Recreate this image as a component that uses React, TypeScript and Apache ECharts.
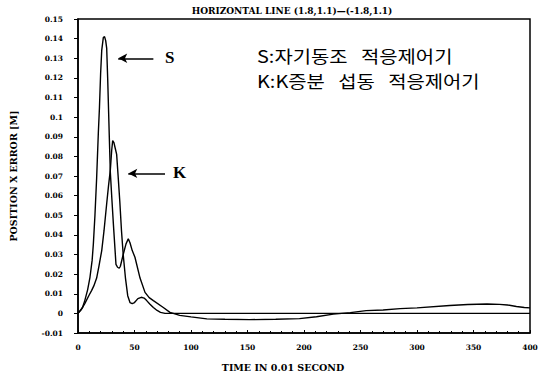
import React, { useEffect, useRef } from "react";
import * as echarts from "echarts";

const titleText = "HORIZONTAL LINE (1.8,1.1)—(-1.8,1.1)";
const xName = "TIME IN 0.01 SECOND";
const yName = "POSITION X ERROR [M]";
const legendLines = ["S:자기동조   적응제어기", "K:K증분   섭동   적응제어기"];

// S curve (self-tuning adaptive controller): [time, error]
const sCurve: [number, number][] = [
  [0, 0], [4, 0.003], [6, 0.0065], [8.5, 0.012], [10.6, 0.0184], [12.5, 0.027], [13.6, 0.0354],
  [15, 0.05], [16.5, 0.069], [18, 0.092], [19, 0.105], [20, 0.122], [21, 0.134], [22.4, 0.1405],
  [23.5, 0.141], [24.5, 0.139], [25.4, 0.135], [26.3, 0.119], [27.7, 0.09], [28.6, 0.072],
  [30, 0.058], [31.3, 0.0456], [33.6, 0.025], [35, 0.0235], [36.5, 0.023], [37.5, 0.024],
  [40, 0.03], [42.5, 0.0354], [44.5, 0.038], [46, 0.036], [48, 0.032], [50.4, 0.0286],
  [54.9, 0.018], [59.3, 0.0107], [63, 0.008], [66.7, 0.0065], [75.5, 0.003], [81.4, 0.0005],
  [90, -0.001], [100, -0.0018], [114, -0.0028], [130, -0.003], [152, -0.0032], [175, -0.003],
  [196, -0.0027], [211, -0.0017], [226, -0.0004], [241, 0.0004], [255, 0.0014], [270, 0.0017],
  [285, 0.0024], [300, 0.0028], [329, 0.004], [345, 0.0045], [362, 0.0048], [373, 0.0046],
  [380, 0.0043], [388, 0.0035], [395, 0.003], [400, 0.0028],
];

// K curve (K-increment perturbation adaptive controller)
const kCurve: [number, number][] = [
  [0, 0], [3, 0.002], [6, 0.005], [10, 0.0095], [12, 0.0116], [14, 0.014], [16.5, 0.018],
  [18.5, 0.024], [21, 0.032], [23, 0.042], [25.4, 0.056], [27, 0.065], [28.6, 0.073],
  [29.8, 0.083], [30.7, 0.088], [31.8, 0.087], [33, 0.084], [34.2, 0.081], [35.5, 0.07],
  [37, 0.057], [38.5, 0.042], [40, 0.03], [42, 0.018], [44, 0.009], [46, 0.0055], [48, 0.005],
  [50, 0.0055], [53, 0.0075], [56, 0.0082], [58.5, 0.0078], [60.8, 0.0065], [63.5, 0.0048],
  [66.7, 0.003], [70, 0.0015], [73, 0.0005], [77, 0], [100, 0], [150, 0], [200, 0],
  [250, 0], [300, 0], [350, 0], [400, 0],
];

// annotation arrows: [xFrom, xTo, y]
const sArrow: [number, number, number] = [66.7, 35.6, 0.13];
const kArrow: [number, number, number] = [77, 44.5, 0.0713];

const X_MIN = 0, X_MAX = 400, X_STEP = 50;
const Y_MIN = -0.01, Y_MAX = 0.15, Y_STEP = 0.01;

const tickFont = {
  fontFamily: "DejaVu Serif",
  fontWeight: "bold" as const,
  fontSize: 7.5,
  color: "#000",
};

export default function App() {
  const ref = useRef<HTMLDivElement>(null);
  useEffect(() => {
    if (!ref.current) return;
    const chart = echarts.init(ref.current, undefined, { renderer: "svg" });
    const arrowLine = (a: [number, number, number]) => [
      { coord: [a[0], a[2]], symbol: "none" },
      { coord: [a[1], a[2]], symbol: "arrow" },
    ];
    const legendText = (text: string, top: number) => ({
      type: "text",
      left: 257,
      top,
      scaleX: 1.17,
      style: { text, font: "17px 'Noto Sans CJK KR'", fill: "#000" },
    });
    chart.setOption({
      animation: false,
      backgroundColor: "#fff",
      title: {
        text: titleText,
        left: 287,
        top: 1,
        textAlign: "center",
        textStyle: { ...tickFont, fontSize: 9 },
      },
      grid: { left: 78, right: 18, top: 19, bottom: 48, show: true, borderColor: "#000", borderWidth: 1.5 },
      xAxis: {
        type: "value",
        min: X_MIN,
        max: X_MAX,
        interval: X_STEP,
        name: xName,
        nameLocation: "middle",
        nameGap: 29,
        nameTextStyle: { ...tickFont, fontSize: 9.5, padding: [0, 42, 0, 0] },
        axisLine: { onZero: false, lineStyle: { color: "#000", width: 1.5 } },
        axisTick: { show: true, inside: true, length: 3, lineStyle: { color: "#000" } },
        minorTick: { show: true, splitNumber: 5, length: 2, lineStyle: { color: "#000" } },
        axisLabel: { ...tickFont, margin: 10 },
        splitLine: { show: false },
      },
      yAxis: {
        type: "value",
        min: Y_MIN,
        max: Y_MAX,
        interval: Y_STEP,
        name: yName,
        nameLocation: "middle",
        nameGap: 60,
        nameTextStyle: { ...tickFont, fontSize: 9.5 },
        axisLine: { lineStyle: { color: "#000", width: 1.5 } },
        axisTick: { show: true, length: 4, lineStyle: { color: "#000" } },
        axisLabel: {
          ...tickFont,
          margin: 15,
          formatter: (v: number) => String(parseFloat(v.toFixed(2))),
        },
        splitLine: { show: false },
      },
      series: [
        {
          name: "S",
          type: "line",
          data: sCurve,
          showSymbol: false,
          lineStyle: { color: "#000", width: 1.4 },
          markLine: {
            silent: true,
            symbolSize: [7, 9],
            lineStyle: { color: "#000", width: 1.5, type: "solid" },
            label: { show: false },
            data: [
              [{ yAxis: 0, symbol: "none" }, { yAxis: 0, symbol: "none" }] as any,
              arrowLine(sArrow),
              arrowLine(kArrow),
            ],
          },
        },
        {
          name: "K",
          type: "line",
          data: kCurve,
          showSymbol: false,
          lineStyle: { color: "#000", width: 1.4 },
        },
      ],
      graphic: [
        { type: "text", left: 165, top: 49, style: { text: "S", font: "bold 17px 'Liberation Serif'", fill: "#000" } },
        { type: "text", left: 173, top: 164, style: { text: "K", font: "bold 17px 'Liberation Serif'", fill: "#000" } },
        legendText(legendLines[0], 47),
        legendText(legendLines[1], 72),
      ],
    });
    return () => chart.dispose();
  }, []);
  return <div ref={ref} style={{ position: "absolute", left: 0, top: 0, width: 548, height: 381 }} />;
}
